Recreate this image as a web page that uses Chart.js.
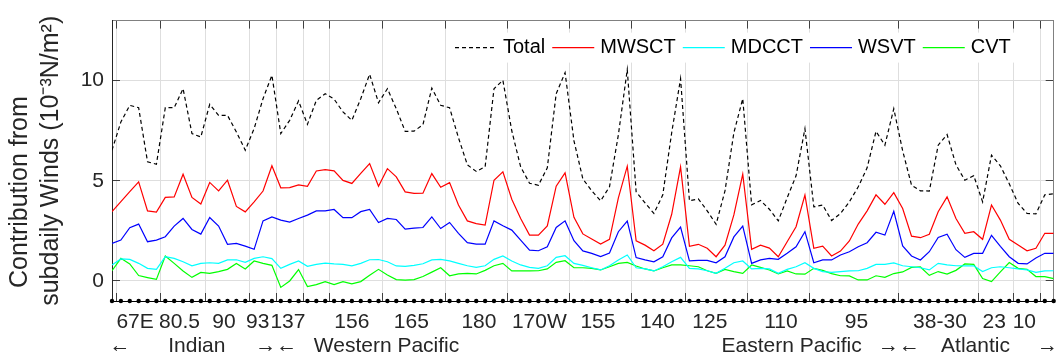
<!DOCTYPE html>
<html><head><meta charset="utf-8">
<script src="https://cdn.jsdelivr.net/npm/chart.js"></script>
<style>html,body{margin:0;padding:0;background:#fff}#wrap{width:1059px;height:362px}</style>
</head><body><div id="wrap"><canvas id="c" width="1059" height="362"></canvas></div>
<script>
// station index along the section (x positions in data units)
const stationIndex = Array.from({length: 107}, (_, i) => i);

const total = [6.53,7.94,8.77,8.65,5.95,5.83,8.65,8.65,9.6,7.36,7.19,8.82,8.27,8.27,7.44,6.53,7.61,9.1,10.27,7.36,
  8.02,8.99,7.82,9.02,9.35,9.08,8.44,8.02,9.1,10.32,8.9,9.6,8.6,7.47,7.48,7.8,9.63,8.77,8.65,7.15,
  5.8,5.47,5.7,9.6,10.02,7.5,5.7,4.88,4.78,5.65,9.35,10.4,7.0,5.1,4.5,4.0,4.7,7.3,10.55,4.45,
  3.9,3.37,4.3,7.4,10.1,4.0,4.1,3.5,2.83,4.5,7.4,9.1,3.8,4.02,3.58,3.0,4.15,5.25,7.6,3.7,
  3.79,3.02,3.37,3.95,4.7,5.65,7.47,6.78,8.6,6.5,4.78,4.5,4.49,6.78,7.31,5.8,5.03,5.26,3.95,6.28,
  5.75,4.85,3.87,3.37,3.35,4.3,4.35];
const mwsct = [3.46,3.96,4.46,4.95,3.5,3.44,4.17,4.2,5.33,4.17,3.84,4.92,4.5,5.03,3.72,3.45,3.95,4.49,5.75,4.65,
  4.66,4.8,4.73,5.49,5.56,5.5,5.02,4.87,5.37,5.86,4.73,5.61,5.2,4.45,4.37,4.38,5.36,4.68,4.91,3.79,
  3.0,2.86,2.79,5.03,5.45,4.08,3.12,2.29,2.29,2.75,4.73,5.4,3.18,2.35,2.1,1.84,2.08,4.15,5.73,2.0,
  1.79,1.51,1.84,3.33,5.7,1.73,1.83,1.63,1.21,1.79,3.3,5.33,1.58,1.79,1.64,1.21,1.96,2.71,4.29,1.63,
  1.74,1.25,1.49,2.0,2.84,3.5,4.3,3.83,4.41,3.62,2.24,2.16,2.33,3.46,4.2,3.12,2.38,2.46,2.08,3.79,
  3.04,2.08,1.79,1.51,1.63,2.38,2.38];
const mdcct = [0.8,1.1,1.08,0.88,0.63,0.58,1.21,1.13,0.96,0.76,0.88,0.91,0.88,1.05,1.06,0.93,1.13,1.21,1.12,0.63,
  0.83,1.0,0.73,0.83,0.89,0.85,0.83,0.75,0.88,1.06,1.07,0.96,0.75,0.73,0.78,0.86,1.05,1.08,1.0,0.88,
  0.76,0.68,0.76,1.08,1.25,1.0,0.8,0.68,0.63,0.76,1.18,1.26,0.88,0.78,0.66,0.55,0.76,1.05,1.3,0.66,
  0.6,0.5,0.71,0.96,1.18,0.63,0.6,0.51,0.38,0.63,0.91,1.0,0.6,0.63,0.6,0.38,0.58,0.71,0.91,0.63,
  0.47,0.43,0.47,0.5,0.51,0.63,0.83,0.83,0.9,0.76,0.71,0.66,0.55,0.88,0.8,0.76,0.75,0.76,0.47,0.66,
  0.71,0.66,0.6,0.55,0.43,0.5,0.51];
const wsvt = [1.88,2.04,2.66,2.84,1.96,2.04,2.21,2.74,3.12,2.57,2.34,3.17,2.74,1.83,1.88,1.74,1.58,3.0,3.2,3.04,
  2.94,3.12,3.29,3.5,3.5,3.57,3.16,3.16,3.46,3.57,2.92,3.12,3.07,2.59,2.64,2.67,3.2,2.62,2.92,2.38,
  1.91,1.84,1.84,3.0,2.76,2.54,2.04,1.54,1.51,1.71,2.67,3.0,2.01,1.5,1.38,1.22,1.4,2.46,2.99,1.17,
  1.05,0.96,1.21,2.15,2.69,1.0,1.03,1.03,0.91,1.21,2.2,2.74,0.88,1.05,1.13,1.08,1.38,1.71,2.46,0.91,
  1.05,1.05,1.3,1.46,1.71,1.91,2.43,2.29,3.48,1.75,1.25,1.05,1.46,2.17,2.33,1.56,1.18,1.38,1.38,2.28,
  1.73,1.21,0.88,0.85,1.15,1.38,1.38];
const cvt = [0.51,1.13,0.85,0.27,0.17,0.08,1.25,0.88,0.5,0.18,0.43,0.38,0.47,0.58,0.87,0.6,1.0,0.88,0.78,-0.32,
  0.0,0.57,-0.28,-0.18,-0.03,-0.18,-0.03,-0.14,-0.03,0.28,0.58,0.3,0.07,0.04,0.07,0.22,0.44,0.66,0.26,0.35,
  0.38,0.35,0.53,0.76,0.88,0.5,0.5,0.5,0.51,0.6,0.93,1.01,0.66,0.66,0.63,0.55,0.71,0.88,0.93,0.75,
  0.6,0.5,0.66,0.8,0.8,0.76,0.71,0.51,0.38,0.58,0.47,0.38,0.8,0.68,0.55,0.35,0.5,0.35,0.34,0.63,
  0.53,0.37,0.26,0.25,0.05,0.05,0.26,0.18,0.37,0.45,0.68,0.7,0.28,0.47,0.34,0.53,0.85,0.83,0.12,-0.03,
  0.45,0.92,0.63,0.58,0.22,0.22,0.12];

const seriesNames = ['Total', 'MWSCT', 'MDCCT', 'WSVT', 'CVT'];
const tickLabels = ['67E','80.5','90','93','137','156','165','180','170W','155','140','125','110','95','38-30','23','10'];
const tickPositions = [2.6,7.6,12.6,16.4,19.8,27,33.7,41.3,48.1,54.7,61.4,67.3,75.3,83.8,93.2,99.3,102.7];
const boundaryPositions = [0.5,5.5,10.5,15.5,18.5,21.5,24.5,30.5,37.5,44.5,51.5,58.5,64.5,71.5,78.5,88.5,97.5,101.5,104.5];
const regionLabels = ['\u2190','Indian','\u2192\u2190','Western Pacific','Eastern Pacific','\u2192\u2190','Atlantic','\u2192'];
const regionPositions = [0.9,9.55,18.5,30.9,76.5,88.6,97.2,105.3];
const yTicks = [0, 5, 10];
const yTitle = ['Contribution from' + '\u00A0'.repeat(9), 'subdaily Winds (10\u207B\u00B3N/m\u00B2)'];
const markerLevel = -1;

const FONT = '"Liberation Sans", Arial, Helvetica, sans-serif';
Chart.defaults.font.family = FONT;
Chart.defaults.color = '#262626';

const xy = vals => vals.map((v, i) => ({x: stationIndex[i], y: v}));
const line = (label, vals, color, dash) => ({
  label, data: xy(vals), borderColor: color, backgroundColor: color, borderWidth: 1.2,
  borderDash: dash || [], pointRadius: 0, tension: 0, fill: false, inLegend: true
});

const datasets = [
  line(seriesNames[0], total, '#000000', [4, 3]),
  line(seriesNames[1], mwsct, '#ff0000'),
  line(seriesNames[2], mdcct, '#00ffff'),
  line(seriesNames[3], wsvt, '#0000ff'),
  line(seriesNames[4], cvt, '#00ff00'),
  { label: 'stations', data: stationIndex.map(i => ({x: i, y: markerLevel})), showLine: false,
    pointRadius: 2.2, pointBackgroundColor: '#000', pointBorderWidth: 0, clip: false, inLegend: false }
];

const insideLegend = {
  id: 'insideLegend',
  afterDatasetsDraw(chart) {
    const ctx = chart.ctx, ca = chart.chartArea;
    const items = chart.data.datasets.filter(d => d.inLegend);
    ctx.save();
    ctx.font = '20px ' + FONT;
    ctx.textBaseline = 'middle';
    const x0 = ca.left + 343, y = ca.top + 27;
    let w = 0;
    items.forEach(d => { w += 48 + ctx.measureText(d.label).width + 7; });
    ctx.fillStyle = '#fff';
    ctx.fillRect(x0 - 6, y - 15, w + 6, 30);
    let x = x0;
    items.forEach(d => {
      ctx.strokeStyle = d.borderColor; ctx.lineWidth = d.borderWidth;
      ctx.setLineDash(d.borderDash || []);
      ctx.beginPath(); ctx.moveTo(x, y); ctx.lineTo(x + 42, y); ctx.stroke();
      ctx.setLineDash([]);
      ctx.fillStyle = '#000';
      ctx.fillText(d.label, x + 48, y);
      x += 48 + ctx.measureText(d.label).width + 7;
    });
    ctx.restore();
  }
};

const xBase = {type: 'linear', min: 0, max: 106, offset: false};
const yBase = {type: 'linear', min: -1, max: 13};
const setTicks = arr => s => { s.ticks = arr.map(v => ({value: v})); };
const TICK = '#404040';
const inwardTicks = {display: true, drawOnChartArea: false, drawTicks: true, tickLength: -8, tickColor: TICK, tickWidth: 1};

new Chart(document.getElementById('c'), {
  type: 'line',
  data: { datasets },
  options: {
    responsive: false, animation: false,
    layout: { padding: {top: 20, right: 4, left: 0, bottom: 0} },
    plugins: { legend: {display: false}, tooltip: {enabled: false} },
    scales: {
      x: { ...xBase, position: 'bottom', weight: 0,
        ticks: {display: false},
        grid: {color: '#dedede', lineWidth: 1, drawTicks: true, tickLength: -8, tickColor: TICK, tickWidth: 1},
        border: {color: '#000', width: 1},
        afterBuildTicks: setTicks(boundaryPositions),
        afterFit: s => { s.height = 0; } },
      xLabels: { ...xBase, position: 'bottom', weight: 1,
        grid: {display: false, drawTicks: false}, border: {display: false},
        ticks: {autoSkip: false, maxRotation: 0, minRotation: 0, padding: 9, color: '#262626',
          font: {size: 21}, callback: (v, i) => tickLabels[i]},
        afterBuildTicks: setTicks(tickPositions),
        afterFit: s => { s.height = 32; } },
      xRegions: { ...xBase, position: 'bottom', weight: 2,
        grid: {display: false, drawTicks: false}, border: {display: false},
        ticks: {autoSkip: false, maxRotation: 0, minRotation: 0, padding: 1, color: '#262626',
          font: {size: 21}, callback: (v, i) => regionLabels[i]},
        afterBuildTicks: setTicks(regionPositions),
        afterFit: s => { s.height = 29; } },
      xTop: { ...xBase, position: 'top',
        ticks: {display: false}, grid: inwardTicks,
        border: {color: '#808080', width: 1},
        afterBuildTicks: setTicks(boundaryPositions),
        afterFit: s => { s.height = 0; } },
      y: { ...yBase, position: 'left', weight: 1,
        afterBuildTicks: setTicks(yTicks),
        ticks: {padding: 8, color: '#262626', font: {size: 21}},
        grid: {color: '#dedede', drawTicks: false},
        border: {color: '#262626', width: 1},
        title: {display: true, text: yTitle, color: '#262626',
          font: {size: 25, lineHeight: 1.25}, padding: {top: 4, bottom: 0}},
        afterFit: s => { s.width = 112; } },
      yMarks: { ...yBase, position: 'left', weight: 0,
        ticks: {display: false}, grid: inwardTicks, border: {display: false},
        afterBuildTicks: setTicks(yTicks),
        afterFit: s => { s.width = 0; } },
      yRight: { ...yBase, position: 'right',
        ticks: {display: false}, grid: inwardTicks,
        border: {color: '#808080', width: 1},
        afterBuildTicks: setTicks(yTicks),
        afterFit: s => { s.width = 0; } }
    }
  },
  plugins: [insideLegend]
});
</script>
</body></html>
